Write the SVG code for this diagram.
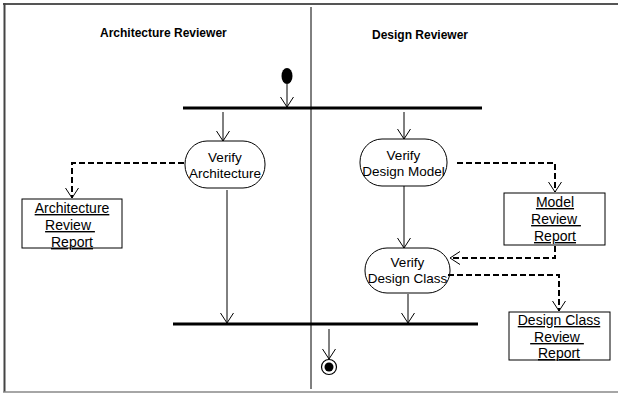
<svg xmlns="http://www.w3.org/2000/svg" width="618" height="393" viewBox="0 0 618 393">
<defs>
<marker id="arr" markerUnits="userSpaceOnUse" markerWidth="12" markerHeight="14" refX="10" refY="6.5" orient="auto">
<path d="M0,0 L10,6.5 L0,13" fill="none" stroke="#000" stroke-width="1"/>
</marker>
<style>
.title{font-family:"Liberation Sans",Arial,sans-serif;font-size:12px;font-weight:bold;fill:#000}
.nt{font-family:"Liberation Sans",Arial,sans-serif;font-size:13.5px;fill:#000;text-anchor:middle}
.bt{font-family:"Liberation Sans",Arial,sans-serif;font-size:14px;fill:#000;text-anchor:middle;text-decoration:underline;white-space:pre}
.node{fill:#fff;stroke:#000;stroke-width:1}
.box{fill:#fff;stroke:#000;stroke-width:1}
.bar{stroke:#000;stroke-width:3}
.c{stroke:#000;stroke-width:1;fill:none;marker-end:url(#arr)}
.d{stroke:#000;stroke-width:2;fill:none;stroke-dasharray:6,3;marker-end:url(#arr)}
</style>
</defs>
<rect width="618" height="393" fill="#fff"/>
<line x1="3" y1="4" x2="618" y2="4" stroke="#555" stroke-width="2"/>
<line x1="4.5" y1="3" x2="4.5" y2="392" stroke="#444" stroke-width="2"/>
<line x1="3" y1="392" x2="618" y2="392" stroke="#888" stroke-width="1.5"/>
<line x1="311" y1="7" x2="311" y2="389" stroke="#000" stroke-width="1"/>
<text class="title" x="100" y="37">Architecture Reviewer</text>
<text class="title" x="372" y="39">Design Reviewer</text>
<g id="start"><ellipse cx="287" cy="76" rx="5.5" ry="8" fill="#000"/></g>
<g id="fork"><line class="bar" x1="183" y1="108" x2="482" y2="108"/></g>
<g id="join"><line class="bar" x1="173" y1="324" x2="478" y2="324"/></g>
<g id="verify-architecture"><rect class="node" x="185" y="141" width="80" height="47" rx="22" ry="23"/>
<text class="nt" x="225" y="162">Verify</text><text class="nt" x="225" y="178">Architecture</text></g>
<g id="verify-design-model"><rect class="node" x="360" y="139" width="87" height="47" rx="22" ry="23"/>
<text class="nt" x="403.5" y="160">Verify</text><text class="nt" x="403.5" y="176">Design Model</text></g>
<g id="verify-design-class"><rect class="node" x="365" y="248" width="85" height="45" rx="22" ry="22"/>
<text class="nt" x="407.5" y="267">Verify</text><text class="nt" x="407.5" y="283">Design Class</text></g>
<g id="architecture-review-report"><rect class="box" x="22" y="199" width="100" height="49"/>
<text class="bt" x="72" y="213">Architecture</text><text class="bt" x="70" y="230">Review </text><text class="bt" x="72" y="247">Report</text></g>
<g id="model-review-report"><rect class="box" x="504" y="193" width="101" height="52"/>
<text class="bt" x="555" y="207">Model</text><text class="bt" x="556" y="224">Review </text><text class="bt" x="555" y="241">Report</text></g>
<g id="design-class-review-report"><rect class="box" x="509" y="312" width="101" height="48"/>
<text class="bt" x="559" y="325">Design Class</text><text class="bt" x="557" y="342"> Review </text><text class="bt" x="559" y="358">Report</text></g>
<g id="end"><circle cx="329" cy="367" r="7.5" fill="#fff" stroke="#000" stroke-width="1.2"/><circle cx="329" cy="367" r="4.5" fill="#000"/></g>
<g id="connectors">
<line class="c" x1="287" y1="84" x2="287" y2="107"/>
<line class="c" x1="223" y1="112" x2="223" y2="141"/>
<line class="c" x1="404" y1="112" x2="404" y2="139"/>
<line class="c" x1="227" y1="190" x2="227" y2="323"/>
<line class="c" x1="404" y1="186" x2="404" y2="248"/>
<line class="c" x1="408" y1="294" x2="408" y2="323"/>
<line class="c" x1="329" y1="329" x2="329" y2="359"/>
<polyline class="d" points="184,163 72,163 72,198"/>
<polyline class="d" points="457,163 555,163 555,192"/>
<polyline class="d" points="555,246 555,258 450,258"/>
<polyline class="d" points="448,275 559,275 559,311"/>
</g>
</svg>
